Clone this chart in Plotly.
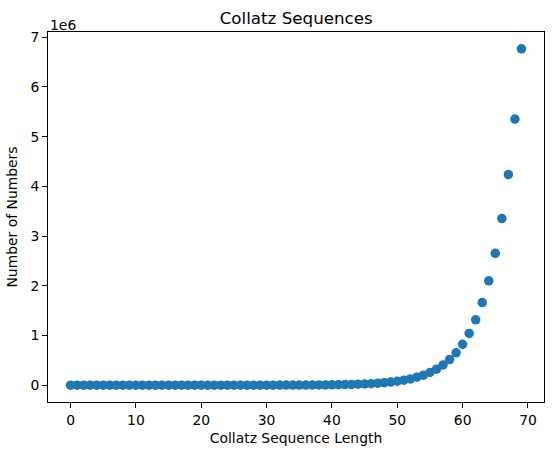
import plotly.graph_objects as go

# Collatz sequence length vs number of starting numbers with that length
seq_length = list(range(70))
num_numbers = [
    1, 1, 1, 1, 1, 2, 2, 4, 4, 6,
    6, 8, 10, 14, 18, 24, 29, 36, 44, 58,
    72, 91, 113, 143, 179, 227, 287, 366, 460, 578,
    732, 926, 1174, 1489, 1879, 2365, 2988, 3780, 4788, 6049,
    7628, 9635, 12190, 15409, 19452, 24561, 31025, 39229, 49580, 62680,
    79255, 100144, 126542, 159930, 202085, 255379, 322773, 407900, 515401, 651345,
    823120, 1040238, 1314606, 1661305, 2099440, 2653254, 3353026, 4237218, 5354970, 6767282,
]
x_ticks = [0, 10, 20, 30, 40, 50, 60, 70]
y_ticks = [0, 1e6, 2e6, 3e6, 4e6, 5e6, 6e6, 7e6]
y_tick_text = ["0", "1", "2", "3", "4", "5", "6", "7"]

blue = "#1f77b4"
font = "DejaVu Sans"

fig = go.Figure()
fig.add_trace(go.Scatter(
    x=seq_length, y=num_numbers,
    mode="markers",
    marker=dict(size=9.5, color=blue, line=dict(width=0)),
    showlegend=False))

# matplotlib-like 5% margins around the data
xmin, xmax = min(seq_length), max(seq_length)
ymin, ymax = min(num_numbers), max(num_numbers)
xpad = 0.05 * (xmax - xmin)
ypad = 0.05 * (ymax - ymin)

axis_style = dict(
    showline=True, linecolor="black", linewidth=1, mirror=True,
    ticks="outside", ticklen=5, tickwidth=1, tickcolor="black",
    showgrid=False, zeroline=False, automargin=False,
    tickfont=dict(family=font, size=13.9, color="black"),
)

fig.update_xaxes(
    axis_style,
    range=[xmin - xpad, xmax + xpad],
    tickvals=x_ticks,
    title=dict(text="Collatz Sequence Length", standoff=6,
               font=dict(family=font, size=13.9, color="black")))
fig.update_yaxes(
    axis_style,
    range=[ymin - ypad, ymax + ypad],
    tickvals=y_ticks, ticktext=y_tick_text,
    title=dict(text="Number of Numbers", standoff=9,
               font=dict(family=font, size=13.9, color="black")))

fig.update_layout(
    template="none",
    width=554, height=455,
    margin=dict(l=48, r=10, t=32, b=53, autoexpand=False),
    paper_bgcolor="white", plot_bgcolor="white",
    title=dict(text="Collatz Sequences", x=0.5347, xanchor="center",
               y=0.96, yanchor="middle",
               font=dict(family=font, size=16.7, color="black")),
    annotations=[dict(text="1e6", xref="paper", yref="paper", x=0, y=1,
                      xanchor="left", yanchor="bottom", yshift=-3,
                      showarrow=False,
                      font=dict(family=font, size=13.9, color="black"))],
)

# drop the browser's default body margin so the figure sits at the corner
fig.write_html("out.html", config={"displayModeBar": False},
               post_script="document.body.style.margin='0';")
